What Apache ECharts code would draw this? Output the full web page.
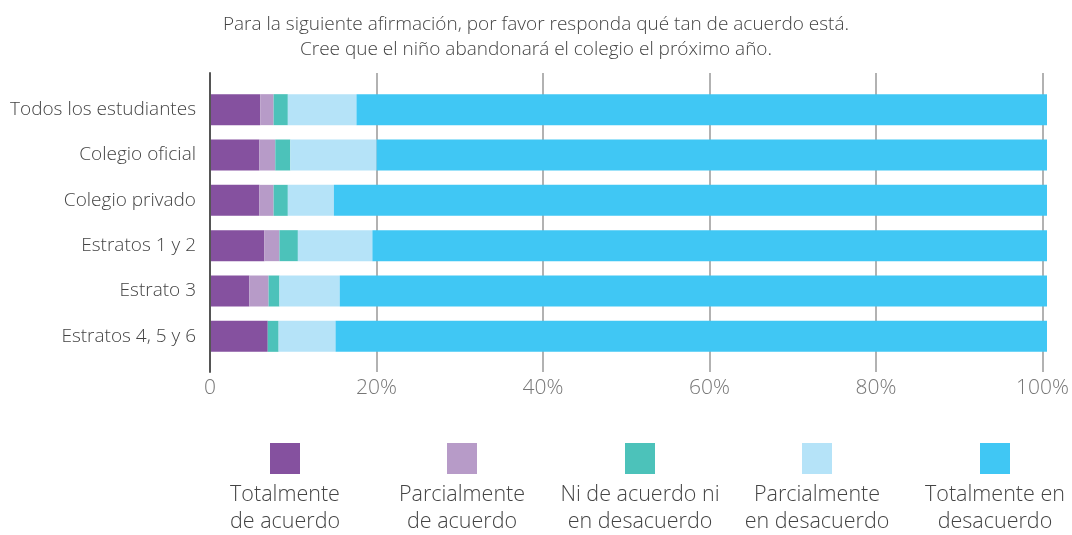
<!DOCTYPE html>
<html>
<head>
<meta charset="utf-8">
<script src="https://cdn.jsdelivr.net/npm/echarts@6/dist/echarts.min.js"></script>
<style>
  html, body { margin: 0; padding: 0; background: #fff; }
  #chart { width: 1072px; height: 535px; }
</style>
</head>
<body>
<div id="chart"></div>
<script>
const categories = ['Todos los estudiantes', 'Colegio oficial', 'Colegio privado', 'Estratos 1 y 2', 'Estrato 3', 'Estratos 4, 5 y 6']
const seriesNames = ['Totalmente\nde acuerdo', 'Parcialmente\nde acuerdo', 'Ni de acuerdo ni\nen desacuerdo', 'Parcialmente\nen desacuerdo', 'Totalmente en\ndesacuerdo']
const totAcuerdo = [6.0, 5.9, 5.9, 6.5, 4.7, 6.9]
const parcAcuerdo = [1.6, 1.9, 1.7, 1.8, 2.3, 0]
const niNi = [1.7, 1.8, 1.7, 2.2, 1.3, 1.3]
const parcDesacuerdo = [8.2, 10.3, 5.5, 8.9, 7.2, 6.8]
const totDesacuerdo = [82.5, 80.1, 85.2, 80.6, 84.5, 85.0]
const xTicks = [0, 20, 40, 60, 80, 100]

const colors = ['#85519F', '#B79BC8', '#4CC2BA', '#B5E3F8', '#40C7F4']
const values = [totAcuerdo, parcAcuerdo, niNi, parcDesacuerdo, totDesacuerdo]
const font = '"Open Sans", Lato, sans-serif'

const legendX = [270, 447, 625, 802, 980]

const chart = echarts.init(document.getElementById('chart'))

chart.setOption({
  animation: false,
  title: {
    text: 'Para la siguiente afirmación, por favor responda qué tan de acuerdo está.\nCree que el niño abandonará el colegio el próximo año.',
    left: 'center',
    top: 7,
    textStyle: { fontFamily: font, fontSize: 19, fontWeight: 300, color: '#444', lineHeight: 25 }
  },
  grid: [
    { left: 210, right: 25, top: 73, bottom: 163 },
    { left: 210, right: 25, top: 87, bottom: 176 }
  ],
  xAxis: [
    {
      gridIndex: 0, type: 'value', min: xTicks[0], max: xTicks[xTicks.length - 1], interval: 20,
      axisLine: { show: false },
      axisTick: { show: false },
      splitLine: { show: true, lineStyle: { color: '#999', width: 1.5 } },
      axisLabel: {
        margin: 6, fontFamily: font, fontSize: 21, fontWeight: 300, color: '#777',
        formatter: v => v === 0 ? '0' : v + '%'
      }
    },
    { gridIndex: 1, type: 'value', min: 0, max: 100, show: false }
  ],
  yAxis: [
    {
      gridIndex: 0, type: 'value', z: 5,
      axisLine: { show: true, lineStyle: { color: '#555', width: 2 } },
      axisTick: { show: false }, axisLabel: { show: false }, splitLine: { show: false }
    },
    {
      gridIndex: 1, type: 'category', data: categories, inverse: true,
      axisLine: { show: false }, axisTick: { show: false },
      axisLabel: { margin: 14, fontFamily: font, fontSize: 19, fontWeight: 300, color: '#444' }
    }
  ],
  legend: seriesNames.map((name, i) => ({
    data: [name],
    left: legendX[i],
    top: 443,
    padding: 0,
    itemWidth: 30,
    itemHeight: 31,
    icon: 'rect',
    selectedMode: false,
    formatter: () => ''
  })),
  graphic: seriesNames.map((name, i) => ({
    type: 'text',
    x: legendX[i] + 15,
    y: 481,
    style: {
      text: name,
      textAlign: 'center',
      textVerticalAlign: 'top',
      fontFamily: font,
      fontSize: 21.5,
      fontWeight: 300,
      lineHeight: 27,
      fill: '#444'
    }
  })),
  series: seriesNames.map((name, i) => ({
    name,
    type: 'bar',
    stack: 'total',
    xAxisIndex: 1,
    yAxisIndex: 1,
    barWidth: 31,
    data: values[i],
    itemStyle: { color: colors[i] }
  }))
})
</script>
</body>
</html>
